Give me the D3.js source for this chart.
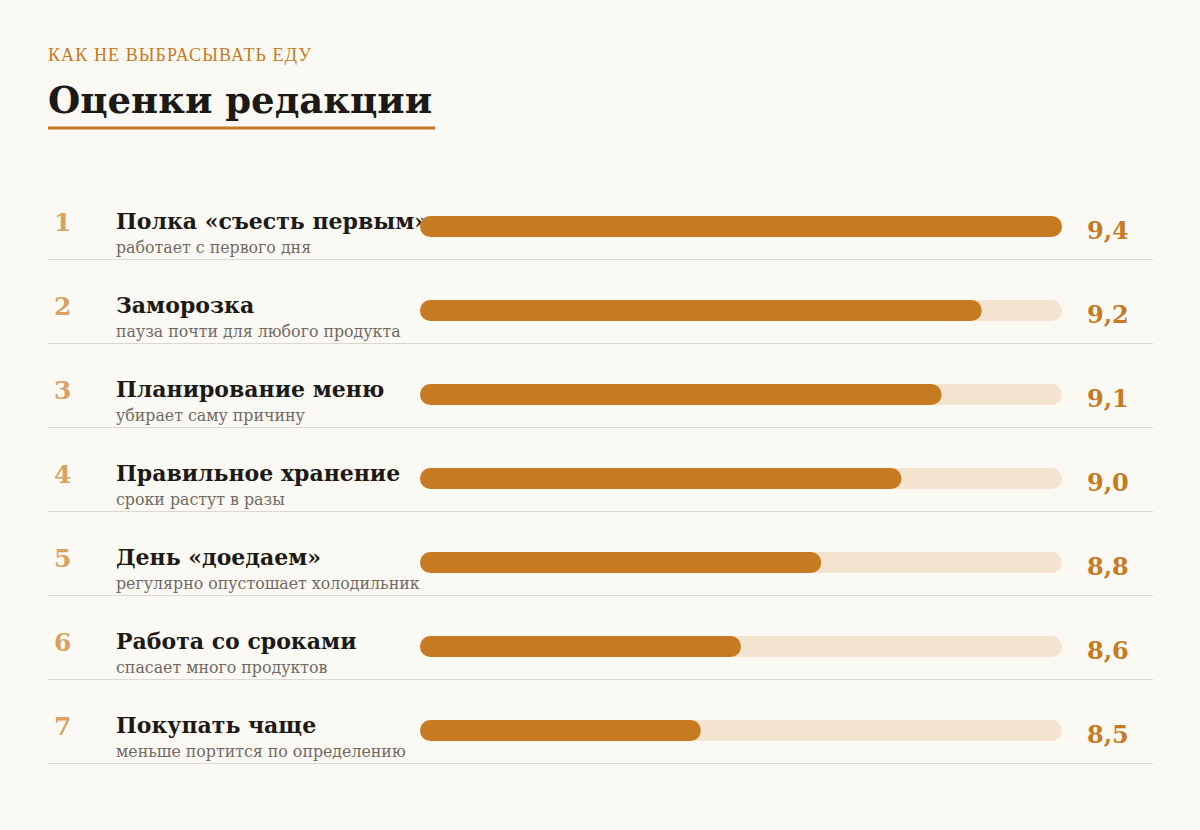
<!DOCTYPE html>
<html>
<head>
<meta charset="utf-8">
<script src="https://cdn.jsdelivr.net/npm/d3@7"></script>
<style>
  html, body { margin: 0; padding: 0; background: #fbf9f3; }
  svg { display: block; }
</style>
</head>
<body>
<div id="chart"></div>
<script>
const kicker = 'КАК НЕ ВЫБРАСЫВАТЬ ЕДУ'
const title = 'Оценки редакции'

const names = [
  'Полка «съесть первым»',
  'Заморозка',
  'Планирование меню',
  'Правильное хранение',
  'День «доедаем»',
  'Работа со сроками',
  'Покупать чаще'
]
const notes = [
  'работает с первого дня',
  'пауза почти для любого продукта',
  'убирает саму причину',
  'сроки растут в разы',
  'регулярно опустошает холодильник',
  'спасает много продуктов',
  'меньше портится по определению'
]
const scores = [9.4, 9.2, 9.1, 9.0, 8.8, 8.6, 8.5]

const width = 1200
const height = 830
const serif = '"DejaVu Serif", "Liberation Serif", serif'
const orange = '#c67a22'

const rows = names.map((name, i) => ({ rank: i + 1, name, note: notes[i], score: scores[i] }))

const svg = d3.select('#chart')
  .append('svg')
  .attr('width', width)
  .attr('height', height)

svg.append('rect')
  .attr('width', width)
  .attr('height', height)
  .attr('fill', '#fbf9f3')

// header
svg.append('text')
  .attr('x', 48)
  .attr('y', 61)
  .attr('fill', orange)
  .style('font', '18px "Liberation Serif", serif')
  .style('letter-spacing', '1.1px')
  .text(kicker)

const titleText = svg.append('text')
  .attr('x', 48)
  .attr('y', 113)
  .attr('fill', '#1c1a17')
  .style('font', `bold 37px ${serif}`)
  .text(title)

const titleW = titleText.node().getComputedTextLength()
svg.append('rect')
  .attr('x', 48)
  .attr('y', 126.5)
  .attr('width', titleW + 3)
  .attr('height', 3)
  .attr('fill', orange)

// scales
const x = d3.scaleLinear().domain([7.8, 9.4]).range([420, 1062])
const y = d3.scaleBand().domain(rows.map(d => d.rank)).range([176, 764]).paddingInner(0)
const barH = 21

const row = svg.selectAll('g.row')
  .data(rows)
  .join('g')
  .attr('class', 'row')
  .attr('transform', d => `translate(0,${y(d.rank)})`)

// separator
row.append('line')
  .attr('x1', 48)
  .attr('x2', 1153)
  .attr('y1', y.bandwidth() - 0.5)
  .attr('y2', y.bandwidth() - 0.5)
  .attr('stroke', '#dcd8d0')
  .attr('stroke-width', 1)

row.append('text')
  .attr('x', 54)
  .attr('y', 55)
  .attr('fill', '#d9a163')
  .style('font', `bold 25px ${serif}`)
  .text(d => d.rank)

row.append('text')
  .attr('x', 116)
  .attr('y', 53)
  .attr('fill', '#1c1a17')
  .style('font', `bold 22px ${serif}`)
  .text(d => d.name)

row.append('text')
  .attr('x', 116)
  .attr('y', 77)
  .attr('fill', '#6f6a63')
  .style('font', `15.8px ${serif}`)
  .text(d => d.note)

// track
row.append('rect')
  .attr('x', x.range()[0])
  .attr('y', 50.5 - barH / 2)
  .attr('width', x.range()[1] - x.range()[0])
  .attr('height', barH)
  .attr('rx', barH / 2)
  .attr('fill', '#f3e4d0')

// fill
row.append('rect')
  .attr('x', x.range()[0])
  .attr('y', 50.5 - barH / 2)
  .attr('width', d => x(d.score) - x.range()[0])
  .attr('height', barH)
  .attr('rx', barH / 2)
  .attr('fill', orange)

row.append('text')
  .attr('x', 1087)
  .attr('y', 63)
  .attr('fill', orange)
  .style('font', `bold 24px ${serif}`)
  .text(d => d3.format('.1f')(d.score).replace('.', ','))
</script>
</body>
</html>
